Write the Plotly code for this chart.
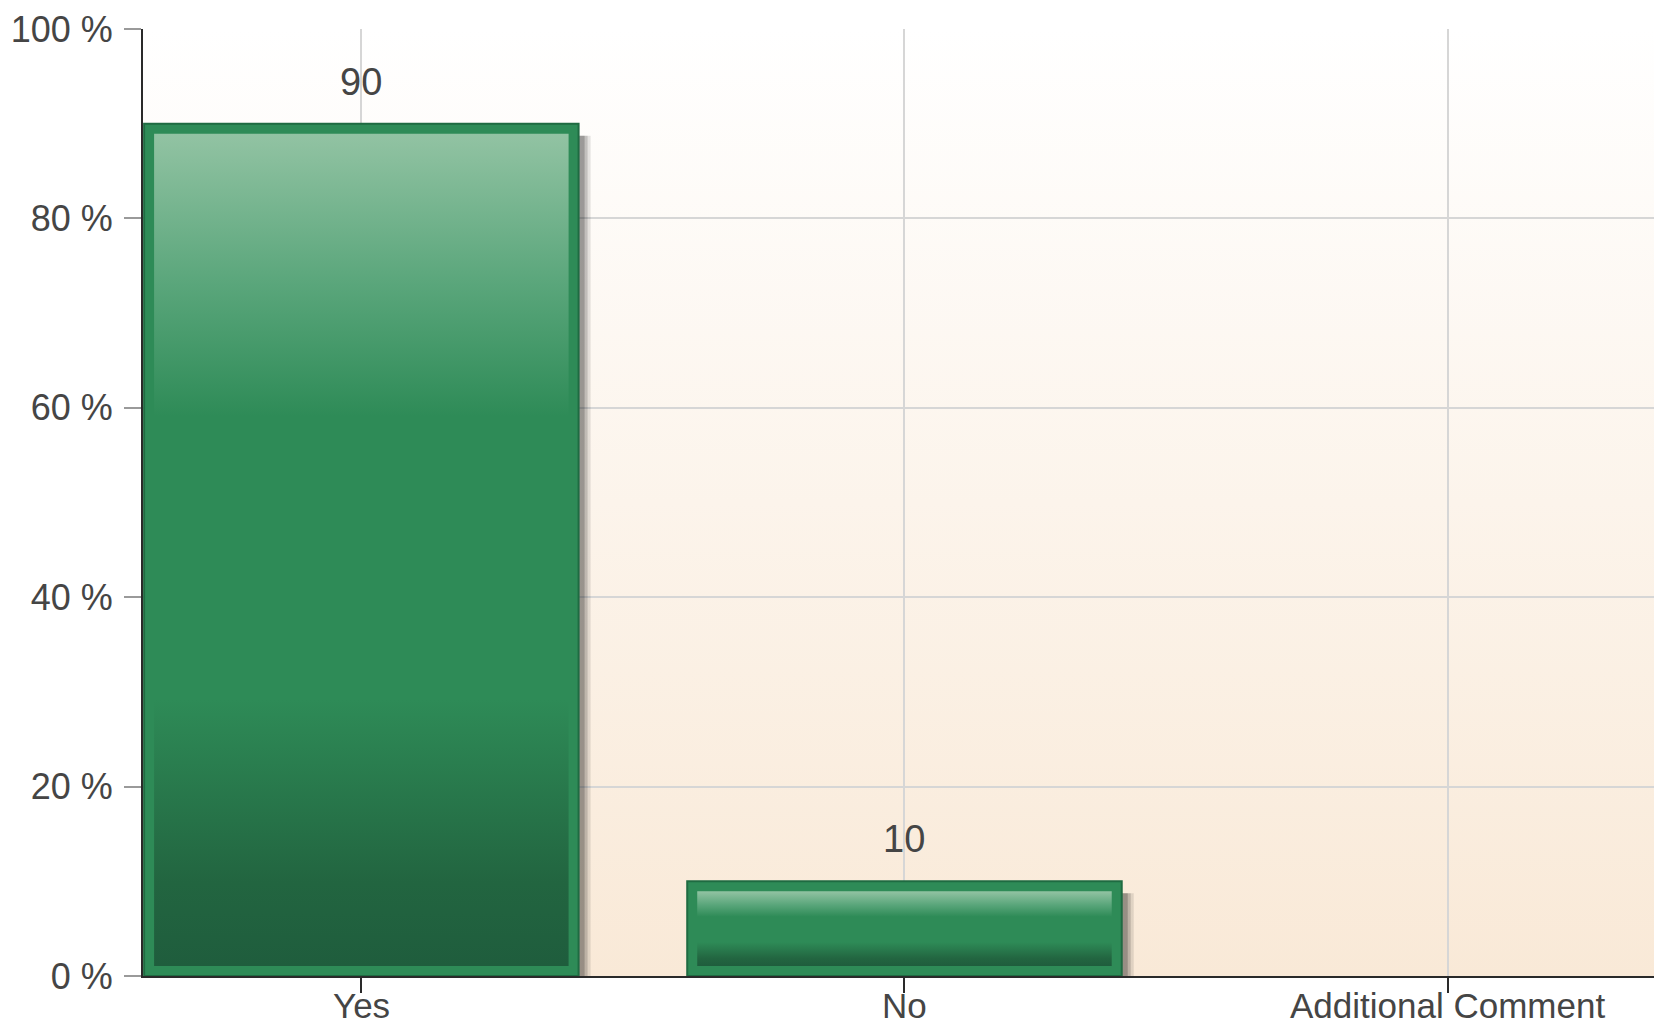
import base64
import plotly.graph_objects as go

# Survey response shares (percent)
categories = ["Yes", "No", "Additional Comment"]
values = [90, 10, 0]
y_ticks = [0, 20, 40, 60, 80, 100]
y_tick_labels = ["0 %", "20 %", "40 %", "60 %", "80 %", "100 %"]

# Canvas / layout geometry
W, H = 1654, 1029
M_L, M_R, M_T, M_B = 143, 0, 29, 53
X_RANGE = [-0.402, 2.38]
Y_RANGE = [0, 100]
BAR_W = 0.8
BORDER_PX = 10
SHADOW_PX = 6

px_x = (W - M_L - M_R) / (X_RANGE[1] - X_RANGE[0])
px_y = (H - M_T - M_B) / (Y_RANGE[1] - Y_RANGE[0])
bx = BORDER_PX / px_x
by = BORDER_PX / px_y
sx = SHADOW_PX / px_x
sy = SHADOW_PX / px_y

FONT = "Liberation Sans, Arial, sans-serif"
TEXT_COLOR = "#454545"

# Glossy green fill: dark at the bottom, light at the top
bar_scale = [
    [0.0, "#1f5d3d"],
    [0.1, "#226540"],
    [0.32, "#2e8b57"],
    [0.66, "#2e8b57"],
    [0.82, "#5aa67b"],
    [1.0, "#92c3a3"],
]

x_idx = list(range(len(categories)))
has_bar = [v > 0 for v in values]

fig = go.Figure()

# soft drop shadows, layered bars shifted right/down
for k, a in ((1.6, 0.10), (1.1, 0.15), (0.6, 0.20)):
    fig.add_trace(go.Bar(
        x=x_idx, y=[(v - 2 * sy + k * sy) if v > 0 else 0 for v in values],
        base=[-k * sy] * len(values), width=BAR_W,
        offset=-BAR_W / 2 + 2 * sx - (1.6 - k) * sx,
        marker=dict(color=f"rgba(0,0,0,{a})", line=dict(width=0)),
        hoverinfo="skip", showlegend=False,
    ))

# bar bodies with the sea-green frame
fig.add_trace(go.Bar(
    x=x_idx, y=values, width=BAR_W, offset=-BAR_W / 2,
    marker=dict(color="#2e8b57",
                line=dict(color=["#1f6b42" if h else "rgba(0,0,0,0)" for h in has_bar],
                          width=2)),
    hoverinfo="skip", showlegend=False,
))


def rect(x0, x1, y0, y1):
    return [x0, x1, x1, x0, x0], [y0, y0, y1, y1, y0]


# gradient inner panels
for i, v in enumerate(values):
    if v <= 0:
        continue
    xs, ys = rect(i - BAR_W / 2 + bx, i + BAR_W / 2 - bx, by, v - by)
    fig.add_trace(go.Scatter(
        x=xs, y=ys, mode="lines", fill="toself", line=dict(width=0),
        fillgradient=dict(type="vertical", colorscale=bar_scale),
        hoverinfo="skip", showlegend=False,
    ))

# value labels above bars
for i, v in enumerate(values):
    if v <= 0:
        continue
    fig.add_annotation(x=i, y=v, text=str(v), showarrow=False, yanchor="middle",
                       yshift=42, font=dict(family=FONT, size=38, color=TEXT_COLOR))

# category labels under the axis
for i, c in enumerate(categories):
    fig.add_annotation(x=i, y=0, text=c, showarrow=False, yanchor="top",
                       yshift=-9, borderpad=0,
                       font=dict(family=FONT, size=35, color=TEXT_COLOR))

# warm vertical background gradient behind the grid
svg = (
    '<svg xmlns="http://www.w3.org/2000/svg" width="10" height="100" '
    'preserveAspectRatio="none"><defs><linearGradient id="g" x1="0" y1="0" x2="0" y2="1">'
    '<stop offset="0" stop-color="#ffffff"/><stop offset="1" stop-color="#f9e9d7"/>'
    '</linearGradient></defs><rect width="10" height="100" fill="url(#g)"/></svg>'
)
bg_uri = "data:image/svg+xml;base64," + base64.b64encode(svg.encode()).decode()

fig.update_layout(
    width=W, height=H,
    margin=dict(l=M_L, r=M_R, t=M_T, b=M_B, pad=0, autoexpand=False),
    paper_bgcolor="white",
    plot_bgcolor="rgba(0,0,0,0)",
    font=dict(family=FONT, size=37, color=TEXT_COLOR),
    barmode="overlay",
    images=[dict(source=bg_uri, xref="paper", yref="paper", x=0, y=1,
                 sizex=1, sizey=1, sizing="stretch", layer="below",
                 xanchor="left", yanchor="top")],
    xaxis=dict(
        range=X_RANGE, tickmode="array", tickvals=x_idx, showticklabels=False,
        showgrid=True, gridcolor="#d6d6d6", gridwidth=2,
        showline=True, linecolor="#2a2a2a", linewidth=2,
        ticks="outside", ticklen=15, tickwidth=2, tickcolor="#2a2a2a",
        zeroline=False, automargin=False,
    ),
    yaxis=dict(
        range=Y_RANGE, tickmode="array", tickvals=y_ticks, ticktext=y_tick_labels,
        showgrid=True, gridcolor="#d6d6d6", gridwidth=2,
        showline=True, linecolor="#2a2a2a", linewidth=2,
        ticks="outside", ticklen=17, tickwidth=2, tickcolor="#9a9a9a",
        zeroline=False, tickfont=dict(size=36, color=TEXT_COLOR), ticklabelstandoff=4,
        automargin=False,
    ),
)

fig.write_html("out.html")
